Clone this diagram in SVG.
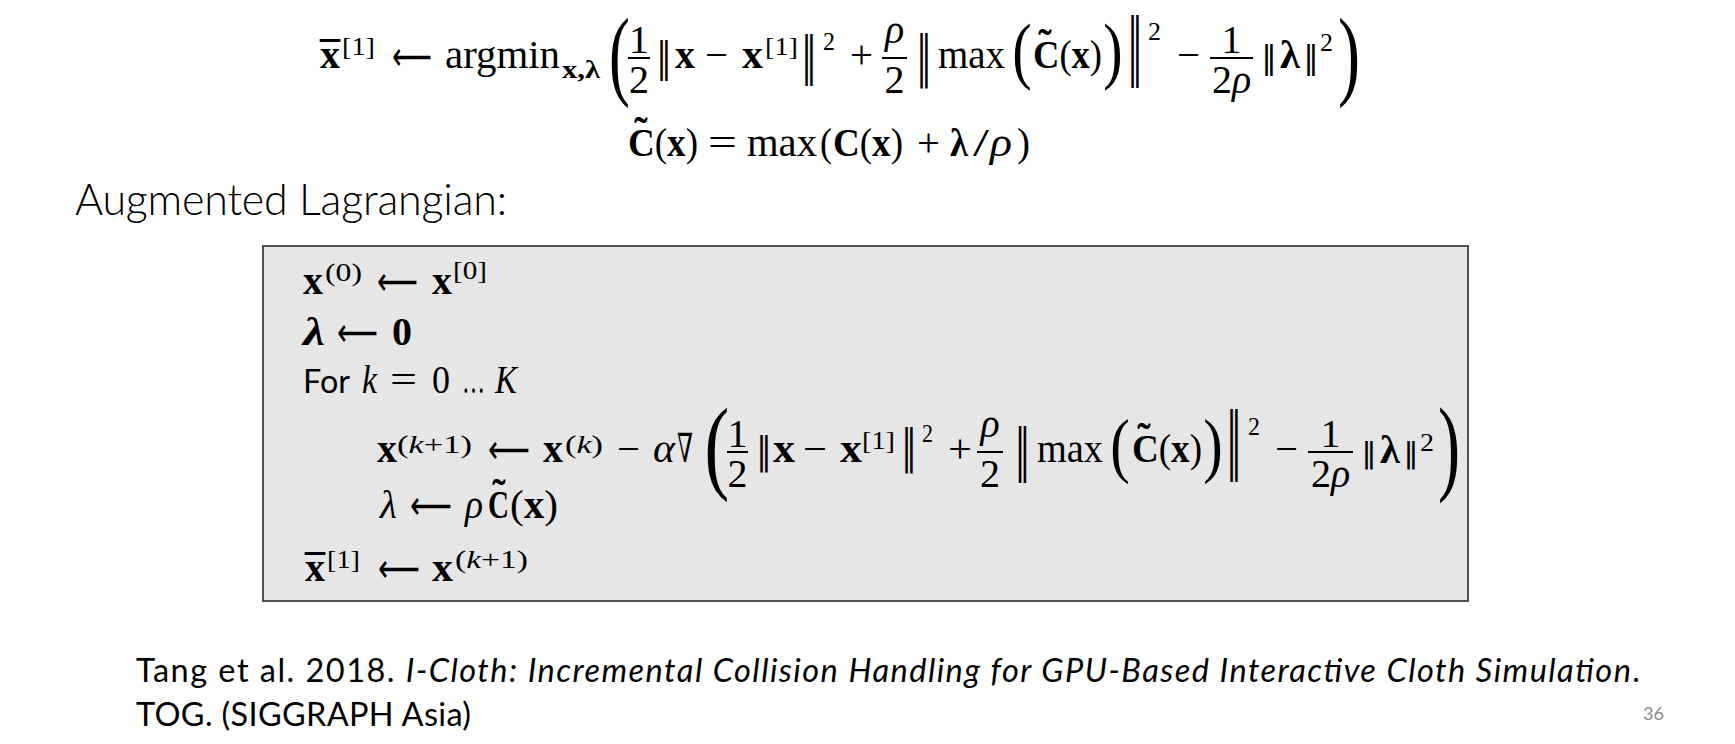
<svg xmlns="http://www.w3.org/2000/svg" width="1735" height="744" viewBox="0 0 1735 744">
<style>
.m{font-family:"Liberation Serif","DejaVu Serif",serif;font-size:40px;fill:#000}
.b{font-weight:bold}
.i{font-style:italic}
.s{font-size:26px}
.sb{font-size:25px}
.ar{font-family:"DejaVu Sans",sans-serif;font-size:40px;fill:#000}
.nb{font-family:"DejaVu Sans",sans-serif;font-size:30px;text-anchor:middle;fill:#000}
.c{text-anchor:middle}
.t{font-family:Lato,"Noto Sans",sans-serif;fill:#000}
.fb{stroke:#000;stroke-width:2}
</style>
<rect width="1735" height="744" fill="#fff"/>

<g id="eq-argmin">
<text class="m b" x="320" y="68" textLength="20" lengthAdjust="spacingAndGlyphs">x</text>
<text class="m b c" x="330" y="69">¯</text>
<text class="m s" x="342" y="55" textLength="33" lengthAdjust="spacingAndGlyphs">[1]</text>
<text class="ar" x="392" y="70" textLength="40" lengthAdjust="spacingAndGlyphs">⟵</text>
<text class="m" x="445" y="68" textLength="115" lengthAdjust="spacingAndGlyphs">argmin</text>
<text class="m b sb" x="562" y="78" textLength="38" lengthAdjust="spacingAndGlyphs">x,λ</text>
<text class="m" x="609" y="87.3" style="font-size:99.6px" textLength="20.8" lengthAdjust="spacingAndGlyphs">(</text>
<text class="m c" x="639" y="53">1</text>
<line class="fb" x1="628" y1="58" x2="650" y2="58"/>
<text class="m c" x="639" y="93">2</text>
<text class="nb" transform="translate(664,70.6) scale(1,1.336)">‖</text>
<text class="m b" x="675" y="68" textLength="20" lengthAdjust="spacingAndGlyphs">x</text>
<text class="m" x="705" y="68" textLength="23" lengthAdjust="spacingAndGlyphs">−</text>
<text class="m b" x="742" y="68" textLength="21" lengthAdjust="spacingAndGlyphs">x</text>
<text class="m s" x="765" y="55" textLength="33" lengthAdjust="spacingAndGlyphs">[1]</text>
<text class="nb" transform="translate(809,73) scale(1,1.718)">‖</text>
<text class="m s" x="823" y="50" textLength="12" lengthAdjust="spacingAndGlyphs">2</text>
<text class="m" x="850" y="68" textLength="23" lengthAdjust="spacingAndGlyphs">+</text>
<text class="m i c" x="894.5" y="43">ρ</text>
<line class="fb" x1="882" y1="58" x2="907" y2="58"/>
<text class="m c" x="894.5" y="93">2</text>
<text class="nb" transform="translate(924,75.2) scale(1,1.832)">‖</text>
<text class="m" x="938" y="68" textLength="67" lengthAdjust="spacingAndGlyphs">max</text>
<text class="m" x="1012.2" y="75" style="font-size:73.9px" textLength="19.4" lengthAdjust="spacingAndGlyphs">(</text>
<text class="m" x="1033" y="68" textLength="69" lengthAdjust="spacingAndGlyphs"><tspan class="b">C</tspan>(<tspan class="b">x</tspan>)</text>
<text class="m b c" x="1045" y="57">˜</text>
<text class="m" x="1103.3" y="75" style="font-size:73.9px" textLength="19.4" lengthAdjust="spacingAndGlyphs">)</text>
<text class="nb" transform="translate(1135,71.2) scale(1,2.405)">‖</text>
<text class="m s" x="1148" y="40" textLength="13" lengthAdjust="spacingAndGlyphs">2</text>
<text class="m" x="1177" y="68" textLength="23" lengthAdjust="spacingAndGlyphs">−</text>
<text class="m c" x="1231.5" y="53">1</text>
<line class="fb" x1="1210" y1="58" x2="1253" y2="58"/>
<text class="m c" x="1231.5" y="93">2<tspan class="i">ρ</tspan></text>
<text class="nb" transform="translate(1269,67.5) scale(1,1.069)">‖</text>
<text class="m b" x="1280" y="68" textLength="20" lengthAdjust="spacingAndGlyphs">λ</text>
<text class="nb" transform="translate(1311,67.5) scale(1,1.069)">‖</text>
<text class="m s" x="1320" y="51" textLength="13" lengthAdjust="spacingAndGlyphs">2</text>
<text class="m" x="1338" y="87.3" style="font-size:99.6px" textLength="22.1" lengthAdjust="spacingAndGlyphs">)</text>
</g>

<g id="eq-ctilde">
<text class="m" x="628" y="156" textLength="70" lengthAdjust="spacingAndGlyphs"><tspan class="b">C</tspan>(<tspan class="b">x</tspan>)</text>
<text class="m b c" x="641" y="145">˜</text>
<text class="m" x="708" y="156" textLength="29" lengthAdjust="spacingAndGlyphs">=</text>
<text class="m" x="747" y="156" textLength="70" lengthAdjust="spacingAndGlyphs">max</text>
<text class="m" x="820" y="156" textLength="12" lengthAdjust="spacingAndGlyphs">(</text>
<text class="m" x="833" y="156" textLength="70" lengthAdjust="spacingAndGlyphs"><tspan class="b">C</tspan>(<tspan class="b">x</tspan>)</text>
<text class="m" x="917" y="156" textLength="23" lengthAdjust="spacingAndGlyphs">+</text>
<text class="m b" x="950" y="156" textLength="18" lengthAdjust="spacingAndGlyphs">λ</text>
<text class="m" x="973" y="156" textLength="16" lengthAdjust="spacingAndGlyphs">/</text>
<text class="m i" x="990" y="156" textLength="22" lengthAdjust="spacingAndGlyphs">ρ</text>
<text class="m" x="1017" y="156" textLength="13" lengthAdjust="spacingAndGlyphs">)</text>
</g>

<g id="heading">
<text class="t" x="75" y="215" style="font-size:43px;font-weight:300" textLength="432" lengthAdjust="spacing">Augmented Lagrangian:</text>
</g>

<g id="algorithm-box">
<rect x="263" y="246" width="1205" height="355" fill="#e7e6e6" stroke="#404040" stroke-width="1.8"/>

<text class="m b" x="303" y="294" textLength="20" lengthAdjust="spacingAndGlyphs">x</text>
<text class="m s" x="325" y="281" textLength="37" lengthAdjust="spacingAndGlyphs">(0)</text>
<text class="ar" x="377" y="295" textLength="41" lengthAdjust="spacingAndGlyphs">⟵</text>
<text class="m b" x="432" y="294" textLength="20" lengthAdjust="spacingAndGlyphs">x</text>
<text class="m s" x="453" y="279" textLength="34" lengthAdjust="spacingAndGlyphs">[0]</text>

<text class="m b i" x="303" y="345" textLength="22" lengthAdjust="spacingAndGlyphs">λ</text>
<text class="ar" x="337" y="346" textLength="41" lengthAdjust="spacingAndGlyphs">⟵</text>
<text class="m b" x="392" y="345" textLength="20" lengthAdjust="spacingAndGlyphs">0</text>

<text class="t" x="303" y="393" style="font-size:32px" textLength="47" lengthAdjust="spacingAndGlyphs">For</text>
<text class="m i" x="362" y="393" textLength="15" lengthAdjust="spacingAndGlyphs">k</text>
<text class="m" x="390" y="393" textLength="27" lengthAdjust="spacingAndGlyphs">=</text>
<text class="m" x="432" y="393" textLength="18" lengthAdjust="spacingAndGlyphs">0</text>
<text class="m" x="462" y="393" textLength="23" lengthAdjust="spacingAndGlyphs">…</text>
<text class="m i" x="495" y="393" textLength="22" lengthAdjust="spacingAndGlyphs">K</text>

<text class="m b" x="377" y="462" textLength="20" lengthAdjust="spacingAndGlyphs">x</text>
<text class="m s" x="397" y="453" textLength="75" lengthAdjust="spacingAndGlyphs">(<tspan class="i">k</tspan>+1)</text>
<text class="ar" x="488" y="463" textLength="42" lengthAdjust="spacingAndGlyphs">⟵</text>
<text class="m b" x="543" y="462" textLength="20" lengthAdjust="spacingAndGlyphs">x</text>
<text class="m s" x="565" y="453" textLength="38" lengthAdjust="spacingAndGlyphs">(<tspan class="i">k</tspan>)</text>
<text class="m" x="617" y="462" textLength="23" lengthAdjust="spacingAndGlyphs">−</text>
<text class="m i" x="653" y="462" textLength="22" lengthAdjust="spacingAndGlyphs">α</text>
<text class="m" x="677" y="462" textLength="16" lengthAdjust="spacingAndGlyphs">∇</text>
<text class="m" x="704.4" y="479.8" style="font-size:103.2px" textLength="24.7" lengthAdjust="spacingAndGlyphs">(</text>
<text class="m c" x="737.5" y="447">1</text>
<line class="fb" x1="727" y1="452" x2="748" y2="452"/>
<text class="m c" x="737.5" y="487">2</text>
<text class="nb" transform="translate(764,464.2) scale(1,1.26)">‖</text>
<text class="m b" x="773" y="462" textLength="22" lengthAdjust="spacingAndGlyphs">x</text>
<text class="m" x="803" y="462" textLength="24" lengthAdjust="spacingAndGlyphs">−</text>
<text class="m b" x="840" y="462" textLength="22" lengthAdjust="spacingAndGlyphs">x</text>
<text class="m s" x="862" y="449" textLength="33" lengthAdjust="spacingAndGlyphs">[1]</text>
<text class="nb" transform="translate(909,462) scale(1,1.565)">‖</text>
<text class="m s" x="922" y="442" textLength="11" lengthAdjust="spacingAndGlyphs">2</text>
<text class="m" x="948" y="462" textLength="24" lengthAdjust="spacingAndGlyphs">+</text>
<text class="m i c" x="990" y="437">ρ</text>
<line class="fb" x1="977" y1="452" x2="1003" y2="452"/>
<text class="m c" x="990" y="487">2</text>
<text class="nb" transform="translate(1022.5,468.9) scale(1,1.87)">‖</text>
<text class="m" x="1037" y="462" textLength="66" lengthAdjust="spacingAndGlyphs">max</text>
<text class="m" x="1110.2" y="469.1" style="font-size:72.7px" textLength="19.5" lengthAdjust="spacingAndGlyphs">(</text>
<text class="m" x="1132" y="462" textLength="70" lengthAdjust="spacingAndGlyphs"><tspan class="b">C</tspan>(<tspan class="b">x</tspan>)</text>
<text class="m b c" x="1144" y="451">˜</text>
<text class="m" x="1203.3" y="469.1" style="font-size:72.7px" textLength="19.5" lengthAdjust="spacingAndGlyphs">)</text>
<text class="nb" transform="translate(1234,464.9) scale(1,2.443)">‖</text>
<text class="m s" x="1248" y="435" textLength="12" lengthAdjust="spacingAndGlyphs">2</text>
<text class="m" x="1275" y="462" textLength="23" lengthAdjust="spacingAndGlyphs">−</text>
<text class="m c" x="1330.5" y="447">1</text>
<line class="fb" x1="1308" y1="452" x2="1353" y2="452"/>
<text class="m c" x="1330.5" y="487">2<tspan class="i">ρ</tspan></text>
<text class="nb" transform="translate(1369,463.3) scale(1,0.954)">‖</text>
<text class="m b" x="1380" y="463" textLength="20" lengthAdjust="spacingAndGlyphs">λ</text>
<text class="nb" transform="translate(1411,463.3) scale(1,0.954)">‖</text>
<text class="m s" x="1420" y="451" textLength="14" lengthAdjust="spacingAndGlyphs">2</text>
<text class="m" x="1438" y="481.3" style="font-size:105.5px" textLength="22.1" lengthAdjust="spacingAndGlyphs">)</text>

<text class="m i" x="380" y="518" textLength="17" lengthAdjust="spacingAndGlyphs">λ</text>
<text class="ar" x="410" y="519" textLength="42" lengthAdjust="spacingAndGlyphs">⟵</text>
<text class="m i" x="465" y="518" textLength="18" lengthAdjust="spacingAndGlyphs">ρ</text>
<text class="m b" x="488" y="518" textLength="21" lengthAdjust="spacingAndGlyphs">C</text>
<text class="m b c" x="499" y="507">˜</text>
<text class="m" x="510" y="518" textLength="48" lengthAdjust="spacingAndGlyphs">(<tspan class="b">x</tspan>)</text>

<text class="m b" x="305" y="581" textLength="20" lengthAdjust="spacingAndGlyphs">x</text>
<text class="m b c" x="315" y="582">¯</text>
<text class="m s" x="327" y="568" textLength="33" lengthAdjust="spacingAndGlyphs">[1]</text>
<text class="ar" x="378" y="582" textLength="42" lengthAdjust="spacingAndGlyphs">⟵</text>
<text class="m b" x="432" y="581" textLength="21" lengthAdjust="spacingAndGlyphs">x</text>
<text class="m s" x="455" y="568" textLength="73" lengthAdjust="spacingAndGlyphs">(<tspan class="i">k</tspan>+1)</text>
</g>

<g id="citation">
<text class="t" x="136" y="682" style="font-size:32.5px" textLength="1504" lengthAdjust="spacing">Tang et al. 2018. <tspan font-style="italic">I-Cloth: Incremental Collision Handling for GPU-Based Interactive Cloth Simulation</tspan>.</text>
<text class="t" x="136" y="726" style="font-size:32.5px" textLength="335" lengthAdjust="spacing">TOG. (SIGGRAPH Asia)</text>
</g>

<g id="page-number">
<text class="t" x="1643" y="720" style="font-size:18px;fill:#898989" textLength="21" lengthAdjust="spacingAndGlyphs">36</text>
</g>
</svg>
